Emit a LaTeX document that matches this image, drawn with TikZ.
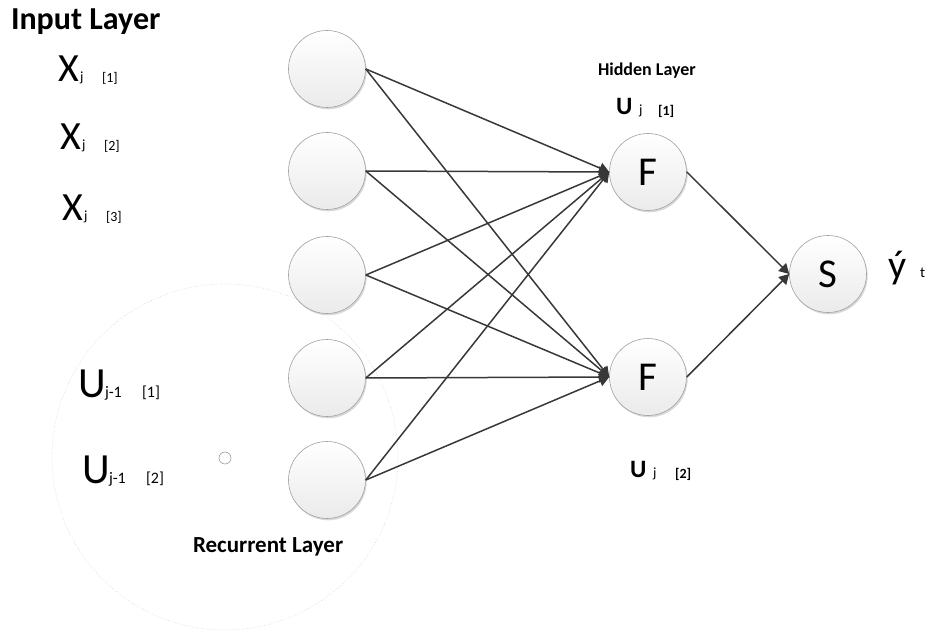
\documentclass[tikz,border=0pt]{standalone}
\usepackage{fontspec}
\setmainfont{Carlito}
\usetikzlibrary{arrows.meta,shadows}
\definecolor{edgec}{HTML}{383838}
\definecolor{nodeborder}{HTML}{A0A0A0}
\newcommand{\fsz}[1]{\fontsize{#1}{#1}\selectfont}
\begin{document}
\begin{tikzpicture}[x=1pt,y=-1pt,
  neuron/.style={circle, draw=nodeborder, line width=0.6pt, top color=white, bottom color=black!8, minimum size=77pt, inner sep=0pt, drop shadow={shadow xshift=1.2pt, shadow yshift=-1.8pt, opacity=0.25, fill=black!60}},
  conn/.style={draw=edgec, line width=1.5pt, -{Triangle[length=10pt,width=11pt]}},
  lbl/.style={anchor=base west, inner sep=0pt, outer sep=0pt, text=black}]
\useasboundingbox (0,0) rectangle (932,631);
% recurrent region
\draw[black!25, dotted, line width=0.5pt] (225,457) circle[radius=173pt];
\node[circle, draw=black!45, fill=white, minimum size=12pt, inner sep=0pt, line width=0.5pt] (c0) at (225,458) {};
% neurons
\node[neuron] (i1) at (327,69) {};
\node[neuron] (i2) at (327,171) {};
\node[neuron] (i3) at (327,275) {};
\node[neuron] (i4) at (327,378) {};
\node[neuron] (i5) at (327,480) {};
\node[neuron] (f1) at (648,172) {\fsz{41}F};
\node[neuron] (f2) at (648,377) {\fsz{41}F};
\node[neuron] (s) at (828,274) {\fsz{41}S};
% connections
\foreach \i in {1,...,5}{
  \draw[conn] (i\i.east) -- (f1.west);
  \draw[conn] (i\i.east) -- (f2.west);
}
\draw[conn] (f1.east) -- (s.west);
\draw[conn] (f2.east) -- (s.west);
% labels
\node[lbl] (tin) at (11,30) {\fsz{32}\bfseries Input Layer};
\node[lbl] (x1) at (58,82) {\fsz{40}X};
\node[lbl] (x1s) at (80,82) {\fsz{14}j};
\node[lbl] (x1n) at (102,83) {\fsz{14}[1]};
\node[lbl] (x2) at (60,150) {\fsz{40}X};
\node[lbl] (x2s) at (82,150) {\fsz{14}j};
\node[lbl] (x2n) at (104,151) {\fsz{14}[2]};
\node[lbl] (x3) at (62,221) {\fsz{40}X};
\node[lbl] (x3s) at (84,221) {\fsz{14}j};
\node[lbl] (x3n) at (106,222) {\fsz{14}[3]};
\node[lbl] (u1) at (78,397) {\fsz{43}U};
\node[lbl] (u1s) at (105,397) {\fsz{16}j-1};
\node[lbl] (u1n) at (142,397) {\fsz{16}[1]};
\node[lbl] (u2) at (82,483) {\fsz{43}U};
\node[lbl] (u2s) at (109,483) {\fsz{16}j-1};
\node[lbl] (u2n) at (146,483) {\fsz{16}[2]};
\node[lbl] (trec) at (193,552) {\fsz{23}\bfseries Recurrent Layer};
\node[lbl] (thid) at (598,76) {\fsz{18}\bfseries Hidden Layer};
\node[lbl] (h1) at (616,115) {\fsz{25}\bfseries U};
\node[lbl] (h1s) at (639,115) {\fsz{14}j};
\node[lbl] (h1n) at (658,116) {\fsz{14}\bfseries [1]};
\node[lbl] (h2) at (630,477) {\fsz{25}\bfseries U};
\node[lbl] (h2s) at (653,477) {\fsz{14}j};
\node[lbl] (h2n) at (675,478) {\fsz{14}\bfseries [2]};
\node[lbl] (yt) at (888,279) {\fsz{40}ý};
\node[lbl] (yts) at (920,277) {\fsz{15}t};
\end{tikzpicture}
\end{document}
